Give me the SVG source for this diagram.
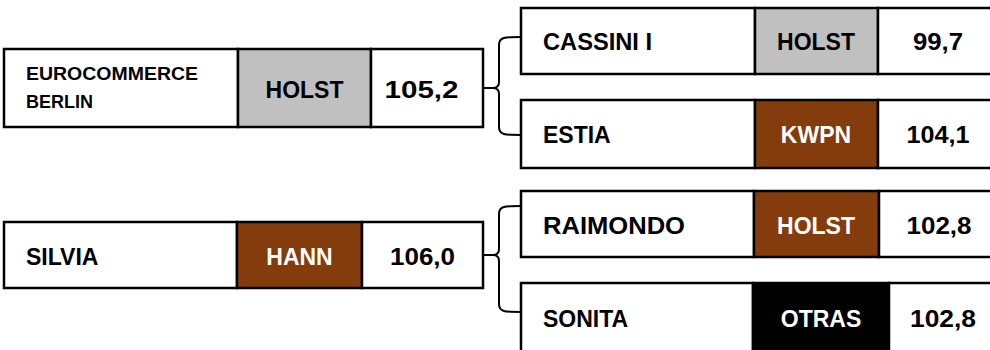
<svg xmlns="http://www.w3.org/2000/svg" width="990" height="350" viewBox="0 0 990 350">
<style>
.box{fill:#fff;stroke:#000;stroke-width:2.5}
.gray{fill:#c0c0c0;stroke:#000;stroke-width:2.5}
.brown{fill:#843c0c;stroke:#000;stroke-width:2.5}
.black{fill:#000;stroke:#000;stroke-width:2.5}
text{font-family:"Liberation Sans",Arial,sans-serif;font-weight:bold;font-size:23px;fill:#000}
.sm{font-size:17.5px}
.w{fill:#fff}
.c{text-anchor:middle}
.br{fill:none;stroke:#000;stroke-width:2}
</style>
<rect width="990" height="350" fill="#fff"/>
<g id="connectors">
<path class="br" d="M477,88 H493 M521,37 C505,37 499,37 499,45 V82 Q499,88 493,88 Q499,88 499,94 V127 C499,135 505,135 521,135"/>
<path class="br" d="M477,255 H493 M521,206 C505,206 499,206 499,214 V249 Q499,255 493,255 Q499,255 499,261 V304 C499,312 505,312 521,312"/>
</g>
<g id="eurocommerce">
<rect class="box" x="4" y="49" width="234" height="78"/>
<rect class="gray" x="238" y="49" width="133" height="78"/>
<rect class="box" x="371" y="49" width="112" height="78"/>
<text class="sm" x="26" y="80" textLength="172" lengthAdjust="spacingAndGlyphs">EUROCOMMERCE</text>
<text class="sm" x="26" y="108" textLength="67" lengthAdjust="spacingAndGlyphs">BERLIN</text>
<text class="c" x="304.5" y="98">HOLST</text>
<text class="c" x="421.5" y="98" textLength="74" lengthAdjust="spacingAndGlyphs">105,2</text>
</g>
<g id="cassini">
<rect class="box" x="521" y="8" width="234" height="66"/>
<rect class="gray" x="755" y="8" width="123" height="66"/>
<rect class="box" x="878" y="8" width="120" height="66"/>
<text x="543" y="50" textLength="109" lengthAdjust="spacingAndGlyphs">CASSINI I</text>
<text class="c" x="816" y="50">HOLST</text>
<text class="c" x="938" y="50" textLength="50" lengthAdjust="spacingAndGlyphs">99,7</text>
</g>
<g id="estia">
<rect class="box" x="521" y="100" width="234" height="68"/>
<rect class="brown" x="755" y="100" width="123" height="68"/>
<rect class="box" x="878" y="100" width="120" height="68"/>
<text x="543" y="143">ESTIA</text>
<text class="c w" x="816" y="143">KWPN</text>
<text class="c" x="938" y="143" textLength="63" lengthAdjust="spacingAndGlyphs">104,1</text>
</g>
<g id="silvia">
<rect class="box" x="4" y="222" width="233" height="66"/>
<rect class="brown" x="237" y="222" width="125" height="66"/>
<rect class="box" x="362" y="222" width="121" height="66"/>
<text x="26" y="265">SILVIA</text>
<text class="c w" x="299.5" y="265">HANN</text>
<text class="c" x="422.5" y="265" textLength="65" lengthAdjust="spacingAndGlyphs">106,0</text>
</g>
<g id="raimondo">
<rect class="box" x="521" y="191" width="233" height="66"/>
<rect class="brown" x="754" y="191" width="125" height="66"/>
<rect class="box" x="879" y="191" width="120" height="66"/>
<text x="543" y="234" textLength="142" lengthAdjust="spacingAndGlyphs">RAIMONDO</text>
<text class="c w" x="816" y="234">HOLST</text>
<text class="c" x="939" y="234" textLength="65" lengthAdjust="spacingAndGlyphs">102,8</text>
</g>
<g id="sonita">
<rect class="box" x="521" y="283" width="232" height="80"/>
<rect class="black" x="753" y="283" width="136" height="80"/>
<rect class="box" x="889" y="283" width="110" height="80"/>
<text x="543" y="327">SONITA</text>
<text class="c w" x="821" y="327">OTRAS</text>
<text class="c" x="943" y="327" textLength="66" lengthAdjust="spacingAndGlyphs">102,8</text>
</g>
</svg>
